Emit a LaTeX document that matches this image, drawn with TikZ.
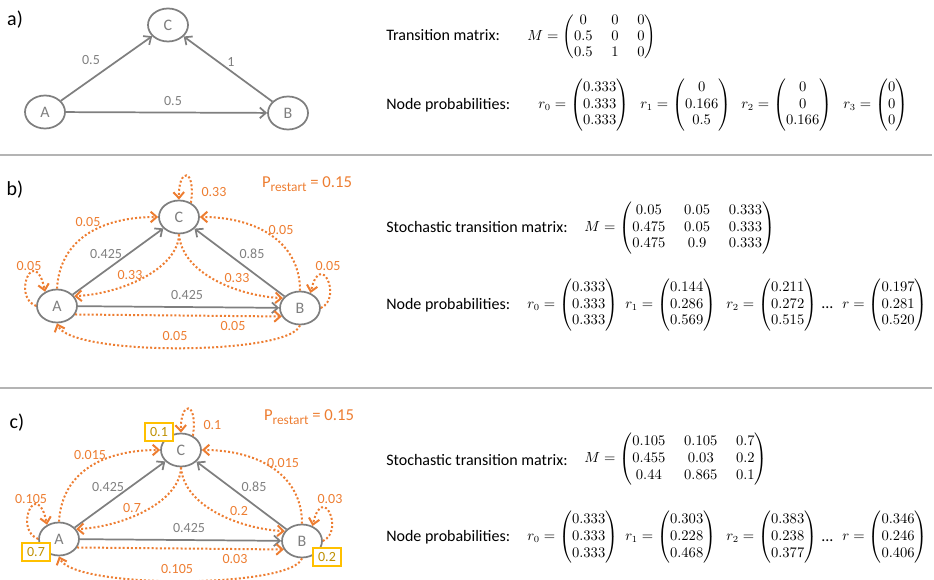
\documentclass[tikz,border=0pt]{standalone}
\usepackage{fontspec}
\setmainfont{Carlito}
\usepackage{amsmath}
\usetikzlibrary{arrows.meta,shapes.geometric}
\definecolor{edgegray}{HTML}{7F7F7F}
\definecolor{walkorange}{HTML}{ED7D31}
\definecolor{seedgold}{HTML}{FFC000}
\definecolor{seedtext}{HTML}{BF9000}
\definecolor{rulegray}{HTML}{B4B4B4}
\newcommand{\mathsize}{\fontsize{10.5}{12.5}\selectfont\setlength{\arraycolsep}{7pt}}
\begin{document}
\begin{tikzpicture}[x=0.75pt,y=-0.75pt,
  state/.style={ellipse, draw=edgegray, line width=1.3pt, fill=white,
    minimum width=30pt, minimum height=24.75pt, inner sep=0pt,
    text=edgegray, font=\fontsize{12}{14}\selectfont},
  link/.style={draw=edgegray, line width=1.3pt,
    -{Straight Barb[length=4.5pt,width=8pt]}},
  jump/.style={draw=walkorange, line width=1.5pt, dash pattern=on 1.5pt off 1.6pt,
    -{Straight Barb[length=4.5pt,width=8pt]}},
  wlabel/.style={text=edgegray, font=\fontsize{10.5}{12}\selectfont, inner sep=1pt},
  jlabel/.style={text=walkorange, font=\fontsize{10.5}{12}\selectfont, inner sep=1pt},
  seed/.style={draw=seedgold, line width=1.5pt, fill=white, text=seedtext,
    font=\fontsize{10.5}{12}\selectfont, minimum width=21pt, minimum height=14pt, inner sep=0pt},
  panel/.style={font=\fontsize{15}{18}\selectfont, inner sep=0pt},
  caption/.style={anchor=west, font=\fontsize{12}{14}\selectfont, inner sep=0pt},
  formula/.style={anchor=west, inner sep=0pt, font=\mathsize},
  restart/.style={text=walkorange, font=\fontsize{12.5}{14}\selectfont, inner sep=0pt},
]
\useasboundingbox (0,0) rectangle (934,580);

% section rules
\draw[rulegray, line width=0.8pt] (0,155) -- (932,155);
\draw[rulegray, line width=0.8pt] (0,388) -- (932,388);

% ---------- a) plain random walk ----------
\node[panel] (pa) at (15,20) {a)};
\node[state] (aA) at (45,112) {A};
\node[state] (aB) at (288,113) {B};
\node[state] (aC) at (168,25) {C};
\draw[link] (aA) -- (aC);
\draw[link] (aA) -- (aB);
\draw[link] (aB) -- (aC);
\node[wlabel] (aAC) at (91,60) {0.5};
\node[wlabel] (aAB) at (173,101) {0.5};
\node[wlabel] (aBC) at (231,62) {1};

\node[caption] (atm) at (386,35) {Transition matrix:};
\node[formula, font=\fontsize{10.5}{12}\selectfont\setlength{\arraycolsep}{7pt}] (aM) at (527,37)
  {$M=\begin{pmatrix}0&0&0\\0.5&0&0\\0.5&1&0\end{pmatrix}$};
\node[caption] (anp) at (386,105) {Node probabilities:};
\node[formula] (ar0) at (538,105) {$r_0=\begin{pmatrix}0.333\\0.333\\0.333\end{pmatrix}$};
\node[formula] (ar1) at (640,105) {$r_1=\begin{pmatrix}0\\0.166\\0.5\end{pmatrix}$};
\node[formula] (ar2) at (741,105) {$r_2=\begin{pmatrix}0\\0\\0.166\end{pmatrix}$};
\node[formula] (ar3) at (843,105) {$r_3=\begin{pmatrix}0\\0\\0\end{pmatrix}$};

% ---------- b) and c) random walk with restart ----------
\foreach \p/\tag/\dx/\dy/\lc/\lac/\lbc/\la/\lb/\lca/\lcb/\lab/\lba in
  {b/b)/0/0/0.33/0.05/0.05/0.05/0.05/0.33/0.33/0.05/0.05,
   c/c)/2/233/0.1/0.015/0.015/0.105/0.03/0.7/0.2/0.03/0.105}
{
\begin{scope}[shift={(\dx,\dy)}]
  \node[panel] (\p-tag) at (15,190) {\tag};
  \node[restart] (\p-pr) at (307,184) {P\raisebox{-0.45ex}{\fontsize{10}{10}\selectfont restart} = 0.15};
  \node[state] (\p-A) at (57,306) {A};
  \node[state] (\p-B) at (300,308) {B};
  \node[state] (\p-C) at (179,217) {C};
  % graph edges
  \draw[link] (\p-A) -- (\p-C);
  \draw[link] (\p-A) -- (\p-B);
  \draw[link] (\p-B) -- (\p-C);
  % restart moves
  \draw[jump] (\p-C.50) .. controls +(5,-36) and +(-1,-32) .. (\p-C.north);
  \draw[jump] (\p-A.north) .. controls +(3,-51) and +(-55,0) .. (\p-C.west);
  \draw[jump] (\p-B.north) .. controls +(0,-50) and +(55,0) .. (\p-C.east);
  \draw[jump] (\p-A.west) .. controls +(-25,-10) and +(-10,-48) .. (\p-A.130);
  \draw[jump] (\p-B.east) .. controls +(22,-10) and +(10,-44) .. (\p-B.55);
  \draw[jump] (\p-C.south) .. controls +(-1,35) and +(46,-2) .. (\p-A.30);
  \draw[jump] (\p-C.south) .. controls +(3,40) and +(-43,-2) .. (\p-B.150);
  \draw[jump] (\p-A.-25) -- (\p-B.-155);
  \draw[jump] (\p-B.south) .. controls +(-10,30) and +(13,33) .. (\p-A.south);
  % weights
  \node[jlabel, anchor=west] (\p-lc) at (200,192) {\lc};
  \node[jlabel] (\p-lac) at (88,222) {\lac};
  \node[jlabel] (\p-lbc) at (281,230) {\lbc};
  \node[wlabel] (\p-wac) at (106,254) {0.425};
  \node[wlabel] (\p-wbc) at (252,254) {0.85};
  \node[jlabel] (\p-la) at (29,266) {\la};
  \node[jlabel] (\p-lb) at (328,266) {\lb};
  \node[jlabel] (\p-lca) at (130,275) {\lca};
  \node[jlabel] (\p-lcb) at (237,278) {\lcb};
  \node[wlabel] (\p-wab) at (187,295) {0.425};
  \node[jlabel] (\p-lab) at (233,326) {\lab};
  \node[jlabel] (\p-lba) at (175,336) {\lba};
\end{scope}
}

% restart distribution of c)
\node[seed] (sC) at (159,432) {0.1};
\node[seed] (sA) at (36,552) {0.7};
\node[seed] (sB) at (327,557) {0.2};

% b) matrices
\node[caption] (btm) at (386,227) {Stochastic transition matrix:};
\node[formula] (bM) at (584,228) {$M=\begin{pmatrix}0.05&0.05&0.333\\0.475&0.05&0.333\\0.475&0.9&0.333\end{pmatrix}$};
\node[caption] (bnp) at (386,305) {Node probabilities:};
\node[formula] (br0) at (527,305) {$r_0=\begin{pmatrix}0.333\\0.333\\0.333\end{pmatrix}$};
\node[formula] (br1) at (625,305) {$r_1=\begin{pmatrix}0.144\\0.286\\0.569\end{pmatrix}$};
\node[formula] (br2) at (726,305) {$r_2=\begin{pmatrix}0.211\\0.272\\0.515\end{pmatrix}$};
\node[caption, anchor=base west] (bdots) at (821,309) {...};
\node[formula] (br) at (842,305) {$r=\begin{pmatrix}0.197\\0.281\\0.520\end{pmatrix}$};

% c) matrices
\node[caption] (ctm) at (386,460) {Stochastic transition matrix:};
\node[formula] (cM) at (584,459) {$M=\begin{pmatrix}0.105&0.105&0.7\\0.455&0.03&0.2\\0.44&0.865&0.1\end{pmatrix}$};
\node[caption] (cnp) at (386,537) {Node probabilities:};
\node[formula] (cr0) at (527,537) {$r_0=\begin{pmatrix}0.333\\0.333\\0.333\end{pmatrix}$};
\node[formula] (cr1) at (625,537) {$r_1=\begin{pmatrix}0.303\\0.228\\0.468\end{pmatrix}$};
\node[formula] (cr2) at (726,537) {$r_2=\begin{pmatrix}0.383\\0.238\\0.377\end{pmatrix}$};
\node[caption, anchor=base west] (cdots) at (821,541) {...};
\node[formula] (cr) at (842,537) {$r=\begin{pmatrix}0.346\\0.246\\0.406\end{pmatrix}$};
\end{tikzpicture}
\end{document}
